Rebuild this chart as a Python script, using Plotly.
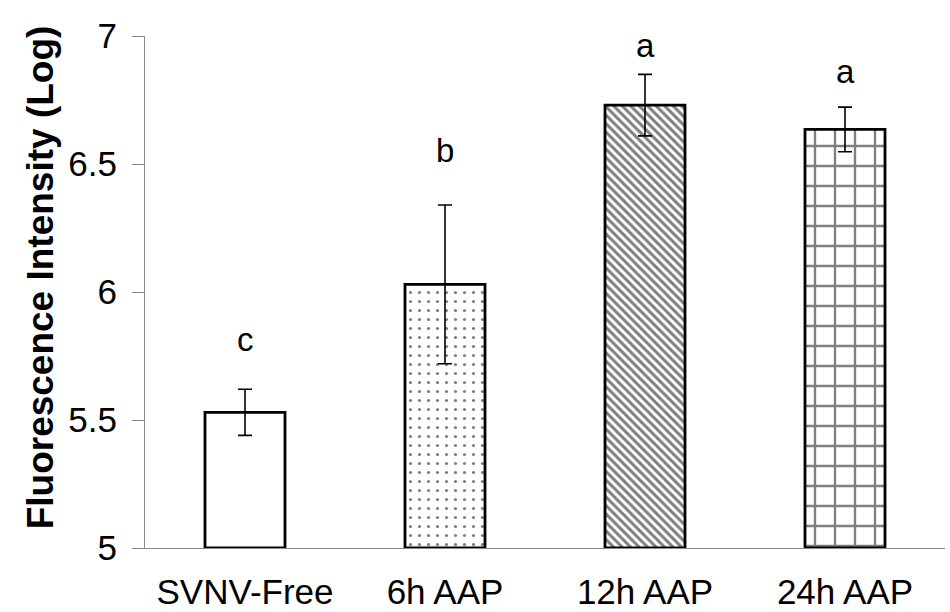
import plotly.graph_objects as go

# data
groups = ["SVNV-Free", "6h AAP", "12h AAP", "24h AAP"]
means = [5.53, 6.03, 6.73, 6.635]
errors = [0.09, 0.31, 0.12, 0.087]
letters = ["c", "b", "a", "a"]
letter_y = [5.78, 6.52, 6.93, 6.83]   # baseline of the significance letters
patterns = ["", ".", "\\", "+"]
pattern_sizes = [8, 9, 6, 20]
pattern_solidity = [0.3, 0.1, 0.5, 0.22]

axis_floor = 5
font = "Liberation Sans, Arial, sans-serif"

fig = go.Figure()
# one trace per bar so each gets its own fill pattern
for g, m, e, shp, sz, sol in zip(groups, means, errors, patterns, pattern_sizes, pattern_solidity):
    fig.add_trace(
        go.Bar(
            x=[g],
            y=[m - axis_floor],
            base=axis_floor,
            marker=dict(
                color="white",
                line=dict(color="black", width=2.8),
                pattern=dict(shape=shp, size=sz, solidity=sol,
                             fgcolor="black", bgcolor="white", fillmode="overlay"),
            ),
            error_y=dict(type="data", array=[e], color="black", thickness=1.6, width=7),
            width=0.4,
            showlegend=False,
        )
    )

for g, lab, ly in zip(groups, letters, letter_y):
    fig.add_annotation(
        x=g, y=ly, text=lab, showarrow=False, yanchor="bottom", yshift=-12,
        font=dict(family=font, size=33, color="black"),
    )

# y title as rotated annotation so it sits where the original does
fig.add_annotation(
    xref="paper", yref="paper", x=-0.131, y=0.529, text="<b>Fluorescence Intensity (Log)</b>",
    textangle=-90, showarrow=False, xanchor="center", yanchor="middle",
    font=dict(family=font, size=37, color="black"),
)

fig.update_layout(
    width=950,
    height=612,
    margin=dict(l=145, r=5, t=36, b=64),
    plot_bgcolor="white",
    paper_bgcolor="white",
    font=dict(family=font, size=35, color="black"),
    barmode="overlay",
)
fig.update_xaxes(
    showline=True, linecolor="#8a8a8a", linewidth=1.3, ticks="", showgrid=False,
    ticklabelstandoff=13, automargin=False,
)
fig.update_yaxes(
    range=[5, 7], tickvals=[5, 5.5, 6, 6.5, 7], ticktext=["5", "5.5", "6", "6.5", "7"],
    showline=True, linecolor="#8a8a8a", linewidth=1.3, ticks="outside", ticklen=12,
    tickcolor="#8a8a8a", tickwidth=1.3, showgrid=False, zeroline=False,
    ticklabelstandoff=8, automargin=False,
)

# drop the default body margin so the figure sits at the window's corner
fig.write_html("out.html", config={"displayModeBar": False},
               post_script="document.body.style.margin='0';")
